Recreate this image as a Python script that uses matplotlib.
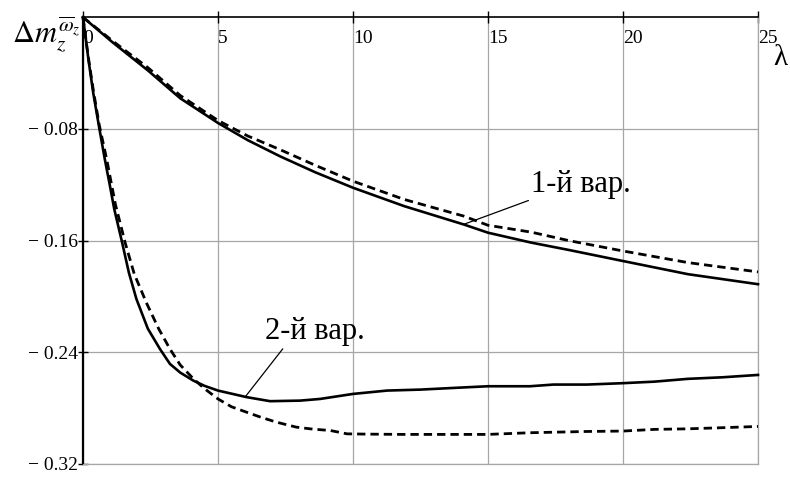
import matplotlib
matplotlib.use("Agg")
import matplotlib.pyplot as plt

# ---- data ----
x1 = [0, 1.1, 2.4, 3.6, 5, 6.1, 7.3, 8.6, 10, 11.9, 14.1, 15, 16.6, 18, 20, 22.4, 25]
var1_solid = [0, -0.018, -0.038, -0.058, -0.0757, -0.088, -0.0996, -0.111, -0.1221, -0.1353,
              -0.1484, -0.1543, -0.1614, -0.1667, -0.1746, -0.184, -0.1912]
var1_dashed = [0, -0.017, -0.036, -0.056, -0.0739, -0.085, -0.0948, -0.106, -0.1174, -0.1305,
               -0.1424, -0.149, -0.1539, -0.160, -0.1674, -0.1757, -0.1824]

x2s = [0, 0.2, 0.38, 0.6, 0.81, 1.0, 1.16, 1.45, 1.7, 1.98, 2.4, 2.85, 3.22, 3.6, 4.09, 4.5, 5,
       6.06, 6.93, 8.04, 8.78, 10, 11.26, 12.5, 13.73, 15, 16.56, 17.42, 18.66, 20, 21.17,
       22.4, 23.67, 25]
var2_solid = [0, -0.030, -0.0543, -0.079, -0.1019, -0.121, -0.1376, -0.1614, -0.1830, -0.2019,
              -0.2230, -0.2376, -0.2483, -0.2545, -0.2603, -0.2640, -0.2674, -0.2721, -0.2750,
              -0.2746, -0.2734, -0.2698, -0.2674, -0.2667, -0.2655, -0.2643, -0.2643, -0.2631,
              -0.2631, -0.2621, -0.261, -0.259, -0.2579, -0.2562]
x2d = [0, 0.2, 0.38, 0.6, 0.88, 1.2, 1.56, 1.9, 2.36, 2.8, 3.22, 3.6, 4.09, 4.5, 5, 5.5, 6.06,
       6.6, 7.16, 7.9, 8.5, 9.16, 9.78, 10.5, 11.87, 15, 16.56, 18.66, 20, 21.17, 22.4, 23.67, 25]
var2_dashed = [0, -0.029, -0.052, -0.077, -0.102, -0.134, -0.1614, -0.184, -0.2050, -0.2230,
               -0.2376, -0.2490, -0.2590, -0.2660, -0.2734, -0.2790, -0.2829, -0.2866, -0.29,
               -0.2936, -0.2950, -0.296, -0.2984, -0.2986, -0.2988, -0.2988, -0.2976, -0.2967,
               -0.2964, -0.2952, -0.2948, -0.294, -0.2931]

xticks = [0, 5, 10, 15, 20, 25]
xticklabels = ["0", "5", "10", "15", "20", "25"]
yticks = [-0.32, -0.24, -0.16, -0.08]
yticklabels = ["\u2212 0.32", "\u2212 0.24", "\u2212 0.16", "\u2212 0.08"]

label1 = "1-й вар."
label2 = "2-й вар."
ylabel = r"$\Delta m_z^{\overline{\omega}_z}$"
xlabel = "λ"

# ---- style ----
plt.rcParams["font.family"] = ["Liberation Serif", "DejaVu Serif"]
plt.rcParams["mathtext.fontset"] = "stix"

fig = plt.figure(figsize=(7.9, 4.78), dpi=100)
W, H = 790, 478
ax = fig.add_axes([83 / W, 1 - 464 / H, (758 - 83) / W, (464 - 17.3) / H])

ax.set_xlim(0, 25)
ax.set_ylim(-0.32, 0)

grid_c = "#a6a6a6"
ax.plot(x1, var1_solid, color="black", lw=1.9, clip_on=False, zorder=3)
ax.plot(x1, var1_dashed, color="black", lw=2.0, ls=(0, (3, 1.8)), clip_on=False, zorder=3)
ax.plot(x2s, var2_solid, color="black", lw=1.9, clip_on=False, zorder=3)
ax.plot(x2d, var2_dashed, color="black", lw=2.0, ls=(0, (3, 1.8)), clip_on=False, zorder=3)

# annotations with leader lines
ax.annotate(label1, xy=(14.09, -0.1484), xytext=(16.6, -0.1255),
            fontsize=22, ha="left", va="baseline",
            arrowprops=dict(arrowstyle="-", color="black", lw=0.9, shrinkA=0, shrinkB=0,
                            relpos=(0, 0)))
ax.annotate(label2, xy=(6.0, -0.2721), xytext=(6.74, -0.2305),
            fontsize=22, ha="left", va="baseline",
            arrowprops=dict(arrowstyle="-", color="black", lw=0.9, shrinkA=0, shrinkB=0,
                            relpos=(0.2, 0)))

# ticks and grid
ax.set_xticks(xticks, labels=xticklabels)
ax.set_yticks(yticks, labels=yticklabels)
ax.xaxis.set_ticks_position("top")
ax.tick_params(axis="x", direction="inout", length=8, width=1.0, labeltop=True,
               labelbottom=False, labelsize=14, pad=-13.5)
ax.tick_params(axis="y", direction="inout", length=7, width=1.0, labelsize=14, pad=0)
for t in ax.xaxis.get_major_ticks():
    t.label2.set_verticalalignment("top")
    t.label2.set_horizontalalignment("left")
ax.grid(True, color=grid_c, lw=0.9)
ax.set_axisbelow(True)

ax.spines["left"].set_color("black")
ax.spines["left"].set_linewidth(1.6)
ax.spines["top"].set_color("black")
ax.spines["top"].set_linewidth(1.2)
ax.spines["bottom"].set_color(grid_c)
ax.spines["bottom"].set_linewidth(0.9)
ax.spines["right"].set_color(grid_c)
ax.spines["right"].set_linewidth(0.9)

fig.text(12 / W, 1 - 43 / H, ylabel, fontsize=22, ha="left", va="baseline")
fig.text(780 / W, 1 - 58 / H, xlabel, fontsize=21, ha="center", va="center")

fig.savefig("out.png", dpi=100)
